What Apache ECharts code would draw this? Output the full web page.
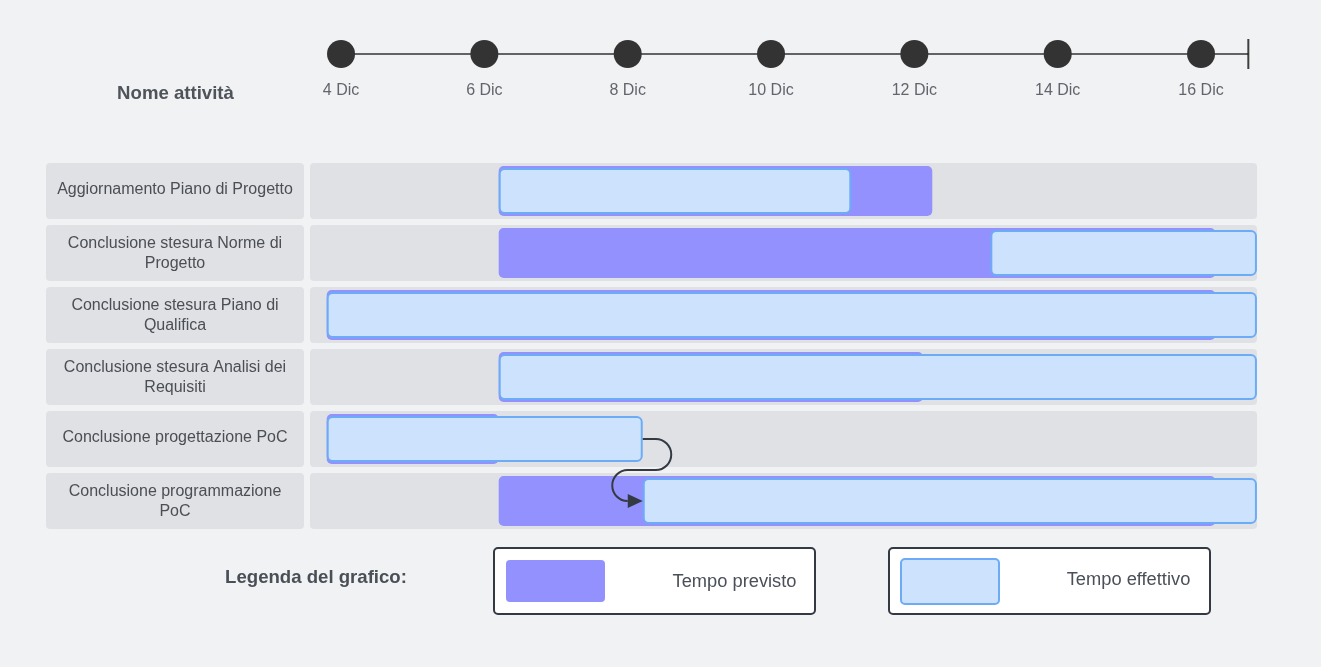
<!DOCTYPE html>
<html>
<head>
<meta charset="utf-8">
<script src="https://cdn.jsdelivr.net/npm/echarts@6/dist/echarts.min.js"></script>
<style>
html, body { margin: 0; padding: 0; background: #f1f2f4; }
#chart { width: 1321px; height: 667px; }
</style>
</head>
<body>
<div id="chart"></div>
<script>
// ---- data ----
const categories = [
  'Aggiornamento Piano di Progetto',
  'Conclusione stesura Norme di\nProgetto',
  'Conclusione stesura Piano di\nQualifica',
  'Conclusione stesura Analisi dei\nRequisiti',
  'Conclusione progettazione PoC',
  'Conclusione programmazione\nPoC'
];
const plannedStart = [6.2, 6.2, 3.8, 6.2, 3.8, 6.2];
const plannedEnd   = [12.25, 16.2, 16.2, 12.12, 6.2, 16.2];
const actualStart  = [6.2, 13.06, 3.8, 6.2, 3.8, 8.21];
const actualEnd    = [11.12, 16.78, 16.78, 16.78, 8.21, 16.78];
const tickDays   = [4, 6, 8, 10, 12, 14, 16];
const tickLabels = ['4 Dic', '6 Dic', '8 Dic', '10 Dic', '12 Dic', '14 Dic', '16 Dic'];
const timelineEnd = 16.66;
const axisMin = 3.567;
const axisMax = 16.781;
const dependencies = [[4, 5]]; // actual end of row 4 -> actual start of row 5
const legendItems = ['Tempo previsto', 'Tempo effettivo'];

// ---- styles ----
const FONT = '"Liberation Sans", Arial, sans-serif';
const PURPLE = '#9391fe';
const BLUE_FILL = '#cde3fd';
const BLUE_LINE = '#6eabf7';
const ROW_BG = '#dfe1e5';
const TEXT = '#4b4e54';

const chart = echarts.init(document.getElementById('chart'), null, { renderer: 'canvas' });

function rowGeom(api, i) {
  const band = api.size([0, 1])[1];
  const c = api.coord([axisMin, i]);
  const top = c[1] - band / 2;
  const h = band - 6;
  return { top: top, h: h, cy: top + h / 2, left: c[0], right: api.coord([axisMax, i])[0] };
}

const option = {
  animation: false,
  backgroundColor: '#f1f2f4',
  grid: [
    { left: 310, right: 64, top: 163, height: 372 },
    { left: 310, right: 64, top: 39, height: 30 }
  ],
  xAxis: [
    { type: 'value', gridIndex: 0, min: axisMin, max: axisMax, show: false },
    { type: 'value', gridIndex: 1, min: axisMin, max: axisMax, show: false }
  ],
  yAxis: [
    { type: 'category', gridIndex: 0, data: categories, inverse: true, show: false },
    { type: 'value', gridIndex: 1, min: -1, max: 1, show: false }
  ],
  graphic: [
    { type: 'text', x: 175.5, y: 93.5, style: { text: 'Nome attività', font: 'bold 18.6px ' + FONT, fill: '#4f535a', align: 'center', verticalAlign: 'middle' } },
    { type: 'text', x: 316, y: 578, style: { text: 'Legenda del grafico:', font: 'bold 18.6px ' + FONT, fill: '#4a4f57', align: 'center', verticalAlign: 'middle' } },
    { type: 'rect', shape: { x: 494, y: 548, width: 321, height: 66, r: 4 }, style: { fill: '#ffffff', stroke: '#333a43', lineWidth: 2 } },
    { type: 'rect', shape: { x: 506, y: 560, width: 99, height: 42, r: 4 }, style: { fill: PURPLE } },
    { type: 'text', x: 734.5, y: 582, style: { text: legendItems[0], font: '18.3px ' + FONT, fill: '#4b5058', align: 'center', verticalAlign: 'middle' } },
    { type: 'rect', shape: { x: 889, y: 548, width: 321, height: 66, r: 4 }, style: { fill: '#ffffff', stroke: '#333a43', lineWidth: 2 } },
    { type: 'rect', shape: { x: 901, y: 559, width: 98, height: 45, r: 4 }, style: { fill: BLUE_FILL, stroke: BLUE_LINE, lineWidth: 2 } },
    { type: 'text', x: 1128.5, y: 580, style: { text: legendItems[1], font: '18.3px ' + FONT, fill: '#4b5058', align: 'center', verticalAlign: 'middle' } }
  ],
  series: [
    {
      type: 'custom',
      name: 'rows',
      xAxisIndex: 0, yAxisIndex: 0,
      clip: false,
      data: categories.map((c, i) => [plannedStart[i], i, plannedEnd[i], actualStart[i], actualEnd[i]]),
      encode: { x: [0, 2, 3, 4], y: 1 },
      renderItem: function (params, api) {
        const i = params.dataIndex;
        const g = rowGeom(api, i);
        const ps = api.coord([plannedStart[i], i])[0];
        const pe = api.coord([plannedEnd[i], i])[0];
        const as = api.coord([actualStart[i], i])[0];
        const ae = api.coord([actualEnd[i], i])[0];
        const multi = categories[i].indexOf('\n') >= 0;
        return {
          type: 'group',
          children: [
            { type: 'rect', shape: { x: g.left - 264, y: g.top, width: 258, height: g.h, r: 4 }, style: { fill: ROW_BG } },
            { type: 'text', style: { text: categories[i], x: g.left - 135, y: g.cy + (multi ? 0.5 : -1), align: 'center', verticalAlign: 'middle', fontSize: 16, fontFamily: FONT, fill: TEXT, lineHeight: 20 } },
            { type: 'rect', shape: { x: g.left, y: g.top, width: g.right - g.left, height: g.h, r: 4 }, style: { fill: ROW_BG } },
            { type: 'rect', shape: { x: ps, y: g.cy - 25, width: pe - ps, height: 50, r: 5 }, style: { fill: PURPLE } },
            { type: 'rect', shape: { x: as + 1, y: g.cy - 22, width: ae - as - 2, height: 44, r: 5 }, style: { fill: BLUE_FILL, stroke: BLUE_LINE, lineWidth: 2 } }
          ]
        };
      }
    },
    {
      type: 'custom',
      name: 'dependency',
      xAxisIndex: 0, yAxisIndex: 0,
      clip: false,
      z: 5,
      data: dependencies.map(d => [actualEnd[d[0]], d[0], actualStart[d[1]], d[1]]),
      encode: { x: [0, 2], y: [1, 3] },
      renderItem: function (params, api) {
        const d = dependencies[params.dataIndex];
        const g1 = rowGeom(api, d[0]);
        const g2 = rowGeom(api, d[1]);
        const x1 = api.coord([actualEnd[d[0]], d[0]])[0];
        const x2 = api.coord([actualStart[d[1]], d[1]])[0];
        const y1 = g1.cy, y2 = g2.cy;
        const ym = (y1 + y2) / 2;
        const r1 = (ym - y1) / 2;
        const r2 = (y2 - ym) / 2;
        const path = 'M ' + x1 + ' ' + y1 +
          ' L ' + (x1 + 13) + ' ' + y1 +
          ' A ' + r1 + ' ' + r1 + ' 0 0 1 ' + (x1 + 13) + ' ' + ym +
          ' L ' + (x2 - 15) + ' ' + ym +
          ' A ' + r2 + ' ' + r2 + ' 0 0 0 ' + (x2 - 15) + ' ' + y2;
        return {
          type: 'group',
          children: [
            { type: 'path', shape: { pathData: path }, style: { fill: null, stroke: '#343a42', lineWidth: 2 } },
            { type: 'polygon', shape: { points: [[x2 - 15, y2 - 7], [x2, y2], [x2 - 15, y2 + 7]] }, style: { fill: '#343a42' } }
          ]
        };
      }
    },
    {
      type: 'line',
      xAxisIndex: 1, yAxisIndex: 1,
      data: [[tickDays[0], 0], [timelineEnd, 0]],
      symbol: 'none',
      lineStyle: { color: '#333333', width: 1.5 },
      silent: true, z: 1
    },
    {
      type: 'scatter',
      xAxisIndex: 1, yAxisIndex: 1,
      data: [[timelineEnd, 0]],
      symbol: 'rect',
      symbolSize: [2, 30],
      itemStyle: { color: '#111111' },
      silent: true, z: 2
    },
    {
      type: 'scatter',
      xAxisIndex: 1, yAxisIndex: 1,
      data: tickDays.map((d, i) => ({ value: [d, 0], name: tickLabels[i] })),
      symbol: 'circle',
      symbolSize: 28,
      itemStyle: { color: '#333333', opacity: 1 },
      label: { show: true, position: 'bottom', distance: 15, formatter: '{b}', color: '#62666c', fontSize: 16, fontFamily: FONT },
      silent: true, z: 3
    }
  ]
};
chart.setOption(option);
</script>
</body>
</html>
